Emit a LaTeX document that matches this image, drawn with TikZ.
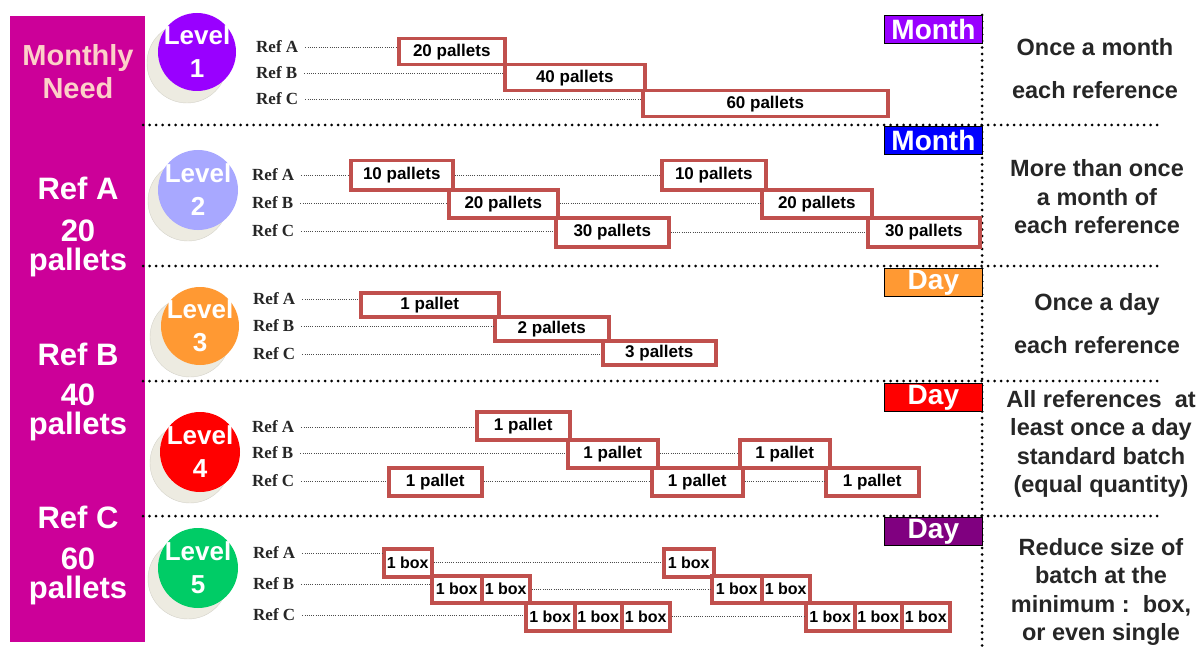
\documentclass[tikz,border=0pt]{standalone}
\usepackage{fontspec}
\setmainfont{Liberation Sans}
\newfontfamily\serifref{Liberation Serif}
\usetikzlibrary{calc}
\definecolor{panelc}{HTML}{CC0099}
\definecolor{pinktxt}{HTML}{FCD0C8}
\definecolor{boxred}{HTML}{C0504D}
\definecolor{violetc}{HTML}{9900FF}
\definecolor{bluec}{HTML}{0000FF}
\definecolor{orangec}{HTML}{FF9933}
\definecolor{redc}{HTML}{FF0000}
\definecolor{greenc}{HTML}{00CC66}
\definecolor{dpurple}{HTML}{800080}
\definecolor{lev2c}{HTML}{A8A8FF}
\definecolor{shadowc}{HTML}{EDEBE1}
\begin{document}
\begin{tikzpicture}[x=1pt,y=-1pt,
  panel/.style={fill=panelc, draw=none, inner sep=0pt, anchor=north west},
  paneltxt/.style={text=white, font=\bfseries\fontsize{31}{29}\selectfont, align=center},
  sepline/.style={draw=black, line width=3pt, dash pattern=on 0pt off 6.5pt, line cap=round},
  conn/.style={draw=gray!60!black, line width=0.6pt, dash pattern=on 1pt off 1.2pt},
  pbox/.style={draw=boxred, line width=3.5pt, fill=white, inner sep=0pt, anchor=north west,
    font=\bfseries\fontsize{17}{17}\selectfont},
  bbox/.style={pbox, font=\bfseries\fontsize{16}{16}\selectfont},
  reflabel/.style={font=\serifref\bfseries\fontsize{17}{17}\selectfont, text=black!85, anchor=west, inner sep=1pt},
  tagbox/.style={draw=black, line width=0.8pt, inner sep=0pt, anchor=north west,
    minimum width=98pt, minimum height=28pt, text=white, font=\bfseries\fontsize{28}{28}\selectfont},
  levelc/.style={circle, inner sep=0pt, minimum size=80pt, draw=none},
  shadowcirc/.style={circle, inner sep=0pt, minimum size=80pt, fill=shadowc, draw=shadowc!90!black, line width=0.4pt},
  leveltxt/.style={text=white, font=\bfseries\fontsize{26}{33}\selectfont, align=center, inner sep=0pt},
  rtext/.style={font=\bfseries\fontsize{23.5}{28.5}\selectfont, align=center, text=black!85},
]
\useasboundingbox (0,0) rectangle (1198,647);

% left panel
\node[panel, minimum width=135pt, minimum height=626pt] (panel) at (10,16) {};
\node[paneltxt, text=pinktxt, font=\bfseries\fontsize{29}{33}\selectfont] (need) at (78,72) {Monthly\\Need};
\node[paneltxt] (pra) at (78,188) {Ref A};
\node[paneltxt] (pqa) at (78,248) {20\\pallets};
\node[paneltxt] (prb) at (78,354) {Ref B};
\node[paneltxt] (pqb) at (78,412) {40\\pallets};
\node[paneltxt] (prc) at (78,517) {Ref C};
\node[paneltxt] (pqc) at (78,576) {60\\pallets};

% separators
\draw[sepline] (143,125) -- (1160,125);
\draw[sepline] (143,266) -- (1160,266);
\draw[sepline] (143,381) -- (1160,381);
\draw[sepline] (143,516) -- (1160,516);
\draw[sepline] (982,15) -- (982,647);

% level circles
\node[shadowcirc] (sh1) at (187,63) {};
\node[levelc, fill=violetc, minimum size=78pt] (lev1) at (197,52) {};
\node[leveltxt] (lt1) at (lev1) {Level\\1};
\node[shadowcirc] (sh2) at (188,201) {};
\node[levelc, fill=lev2c] (lev2) at (198,190) {};
\node[leveltxt] (lt2) at (lev2) {Level\\2};
\node[shadowcirc] (sh3) at (190,337) {};
\node[levelc, fill=orangec, minimum size=78pt] (lev3) at (200,326) {};
\node[leveltxt] (lt3) at (lev3) {Level\\3};
\node[shadowcirc] (sh4) at (190,463) {};
\node[levelc, fill=redc] (lev4) at (200,452) {};
\node[leveltxt] (lt4) at (lev4) {Level\\4};
\node[shadowcirc] (sh5) at (188,579) {};
\node[levelc, fill=greenc] (lev5) at (198,568) {};
\node[leveltxt] (lt5) at (lev5) {Level\\5};

% ref labels
\node[reflabel] (r1a) at (255,47) {Ref A};
\node[reflabel] (r1b) at (255,73) {Ref B};
\node[reflabel] (r1c) at (255,99) {Ref C};
\node[reflabel] (r2a) at (251,175) {Ref A};
\node[reflabel] (r2b) at (251,203) {Ref B};
\node[reflabel] (r2c) at (251,231) {Ref C};
\node[reflabel] (r3a) at (252,299) {Ref A};
\node[reflabel] (r3b) at (252,326) {Ref B};
\node[reflabel] (r3c) at (252,354) {Ref C};
\node[reflabel] (r4a) at (251,427) {Ref A};
\node[reflabel] (r4b) at (251,453) {Ref B};
\node[reflabel] (r4c) at (251,481) {Ref C};
\node[reflabel] (r5a) at (252,553) {Ref A};
\node[reflabel] (r5b) at (252,584) {Ref B};
\node[reflabel] (r5c) at (252,615) {Ref C};

% tags
\node[tagbox, fill=violetc] (tag1) at (884,15) {Month};
\node[tagbox, fill=bluec] (tag2) at (884,126) {Month};
\node[tagbox, fill=orangec] (tag3) at (884,268) {Day};
\node[tagbox, fill=redc] (tag4) at (884,383) {Day};
\node[tagbox, fill=dpurple] (tag5) at (884,517) {Day};

% level 1 boxes
\node[pbox, minimum width=106pt, minimum height=26pt] (b1a) at (397,37) {20 pallets};
\node[pbox, minimum width=140pt, minimum height=26pt] (b1b) at (503,63) {40 pallets};
\node[pbox, minimum width=245pt, minimum height=26pt] (b1c) at (641,89) {60 pallets};
% level 2
\node[pbox, minimum width=102pt, minimum height=29pt] (b2a1) at (349,159) {10 pallets};
\node[pbox, minimum width=104pt, minimum height=29pt] (b2a2) at (660,159) {10 pallets};
\node[pbox, minimum width=109pt, minimum height=28pt] (b2b1) at (447,188) {20 pallets};
\node[pbox, minimum width=110pt, minimum height=28pt] (b2b2) at (760,188) {20 pallets};
\node[pbox, minimum width=113pt, minimum height=29pt] (b2c1) at (554,216) {30 pallets};
\node[pbox, minimum width=112pt, minimum height=29pt] (b2c2) at (866,216) {30 pallets};
% level 3
\node[pbox, minimum width=138pt, minimum height=24pt] (b3a) at (359,291) {1 pallet};
\node[pbox, minimum width=114pt, minimum height=24pt] (b3b) at (493,315) {2 pallets};
\node[pbox, minimum width=113pt, minimum height=24pt] (b3c) at (601,339) {3 pallets};
% level 4
\node[pbox, minimum width=93pt, minimum height=28pt] (b4a) at (475,410) {1 pallet};
\node[pbox, minimum width=90pt, minimum height=28pt] (b4b1) at (566,438) {1 pallet};
\node[pbox, minimum width=90pt, minimum height=28pt] (b4b2) at (738,438) {1 pallet};
\node[pbox, minimum width=93pt, minimum height=28pt] (b4c1) at (387,466) {1 pallet};
\node[pbox, minimum width=91pt, minimum height=28pt] (b4c2) at (650,466) {1 pallet};
\node[pbox, minimum width=93pt, minimum height=28pt] (b4c3) at (824,466) {1 pallet};
% level 5
\node[bbox, minimum width=48pt, minimum height=28pt] (b5a1) at (382,547) {1 box};
\node[bbox, minimum width=50pt, minimum height=28pt] (b5a2) at (662,547) {1 box};
\node[bbox, minimum width=50pt, minimum height=27pt] (b5b1) at (430,574) {1 box};
\node[bbox, minimum width=48pt, minimum height=27pt] (b5b2) at (480,574) {1 box};
\node[bbox, minimum width=50pt, minimum height=27pt] (b5b3) at (710,574) {1 box};
\node[bbox, minimum width=48pt, minimum height=27pt] (b5b4) at (760,574) {1 box};
\node[bbox, minimum width=49pt, minimum height=28pt] (b5c1) at (524,601) {1 box};
\node[bbox, minimum width=47pt, minimum height=28pt] (b5c2) at (573,601) {1 box};
\node[bbox, minimum width=48pt, minimum height=28pt] (b5c3) at (620,601) {1 box};
\node[bbox, minimum width=49pt, minimum height=28pt] (b5c4) at (804,601) {1 box};
\node[bbox, minimum width=47pt, minimum height=28pt] (b5c5) at (853,601) {1 box};
\node[bbox, minimum width=48pt, minimum height=28pt] (b5c6) at (900,601) {1 box};

% connectors
\begin{scope}[shorten <=6pt]
\draw[conn] (r1a.east) -- (r1a.east -| b1a.west);
\draw[conn] (r1b.east) -- (r1b.east -| b1b.west);
\draw[conn] (r1c.east) -- (r1c.east -| b1c.west);
\draw[conn] (r2a.east) -- (r2a.east -| b2a1.west);
\draw[conn] (r2b.east) -- (r2b.east -| b2b1.west);
\draw[conn] (r2c.east) -- (r2c.east -| b2c1.west);
\draw[conn] (r3a.east) -- (r3a.east -| b3a.west);
\draw[conn] (r3b.east) -- (r3b.east -| b3b.west);
\draw[conn] (r3c.east) -- (r3c.east -| b3c.west);
\draw[conn] (r4a.east) -- (r4a.east -| b4a.west);
\draw[conn] (r4b.east) -- (r4b.east -| b4b1.west);
\draw[conn] (r4c.east) -- (r4c.east -| b4c1.west);
\draw[conn] (r5a.east) -- (r5a.east -| b5a1.west);
\draw[conn] (r5b.east) -- (r5b.east -| b5b1.west);
\draw[conn] (r5c.east) -- (r5c.east -| b5c1.west);
\end{scope}
\draw[conn] (b2a1.east) -- (b2a2.west);
\draw[conn] (b2b1.east) -- (b2b2.west);
\draw[conn] (b2c1.east) -- (b2c2.west);
\draw[conn] (b4b1.east) -- (b4b2.west);
\draw[conn] (b4c1.east) -- (b4c2.west);
\draw[conn] (b4c2.east) -- (b4c3.west);
\draw[conn] (b5a1.east) -- (b5a2.west);
\draw[conn] (b5b2.east) -- (b5b3.west);
\draw[conn] (b5c3.east) -- (b5c4.west);

% right column texts
\node[rtext, font=\bfseries\fontsize{23.5}{43}\selectfont] (t1) at (1095,69) {Once a month\\each reference};
\node[rtext] (t2) at (1097,197) {More than once\\a month of\\each reference};
\node[rtext, font=\bfseries\fontsize{23.5}{43}\selectfont] (t3) at (1097,324) {Once a day\\each reference};
\node[rtext] (t4) at (1101,444) {All references\ \ at\\least once a day\\standard batch\\(equal quantity)};
\node[rtext] (t5) at (1101,592) {Reduce size of\\batch at the\\minimum :\ \ box,\\or even single};
\end{tikzpicture}
\end{document}
